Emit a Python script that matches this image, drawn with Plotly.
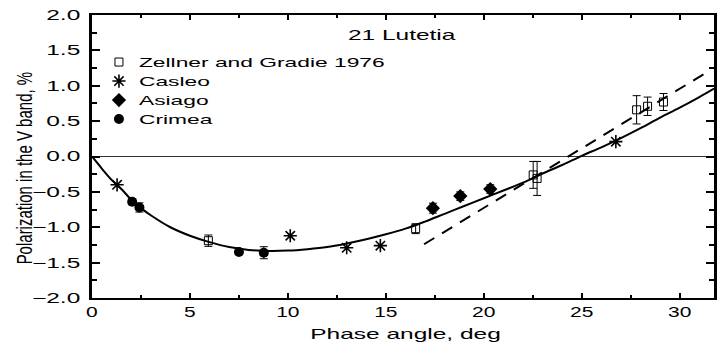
import plotly.graph_objects as go

# --- measurements: polarization of 21 Lutetia vs phase angle ---
zg_phase = [5.94, 16.52, 22.52, 22.72, 27.80, 28.36, 29.17]
zg_pol = [-1.19, -1.02, -0.26, -0.31, 0.66, 0.71, 0.77]
zg_err = [0.08, 0.07, 0.19, 0.24, 0.20, 0.13, 0.12]

casleo_phase = [1.28, 10.12, 13.00, 14.72, 26.74]
casleo_pol = [-0.40, -1.12, -1.29, -1.26, 0.21]

asiago_phase = [17.40, 18.80, 20.33]
asiago_pol = [-0.73, -0.56, -0.46]
asiago_err = [0.07, 0.06, 0.06]

crimea_phase = [2.05, 2.42, 7.50, 8.77]
crimea_pol = [-0.64, -0.72, -1.35, -1.36]
crimea_err = [0.04, 0.065, 0.02, 0.085]

# --- phase curve (solid) ---
fit_phase = [0, 0.5, 1.0, 1.5, 2.0, 2.5, 3.0, 4.0, 5.0, 6.0, 7.0, 8.0, 9.0,
             10.0, 11.0, 12.0, 13.0, 14.0, 15.0, 16.0, 17.0, 18.0, 19.0,
             20.0, 21.0, 22.0, 23.0, 24.0, 25.0, 26.0, 27.0, 28.0, 29.0,
             30.0, 31.0, 31.75]
fit_pol = [0.0, -0.17, -0.33, -0.46, -0.61, -0.73, -0.83, -1.00, -1.12,
           -1.21, -1.28, -1.32, -1.335, -1.33, -1.31, -1.28, -1.23, -1.17,
           -1.10, -1.02, -0.92, -0.81, -0.70, -0.59, -0.48, -0.37, -0.24,
           -0.12, 0.01, 0.13, 0.26, 0.40, 0.55, 0.69, 0.84, 0.96]

# --- linear branch (dashed) ---
lin_phase = [16.95, 31.50]
lin_pol = [-1.24, 1.21]

FONT = "Arial, Liberation Sans, sans-serif"
INK = "#000000"

fig = go.Figure()

fig.add_trace(go.Scatter(x=fit_phase, y=fit_pol, mode="lines",
                         line=dict(color=INK, width=2, shape="spline"),
                         showlegend=False, hoverinfo="skip"))
fig.add_trace(go.Scatter(x=lin_phase, y=lin_pol, mode="lines",
                         line=dict(color=INK, width=2, dash="12px,9px"),
                         showlegend=False, hoverinfo="skip"))

err_style = dict(type="data", color=INK, thickness=1, width=4)

fig.add_trace(go.Scatter(
    x=zg_phase, y=zg_pol, mode="markers", name="Zellner and Gradie 1976",
    marker=dict(symbol="square-open", size=8, color=INK, line=dict(width=1, color=INK)),
    error_y=dict(array=zg_err, **err_style)))
fig.add_trace(go.Scatter(
    x=casleo_phase, y=casleo_pol, mode="markers", name="Casleo",
    marker=dict(symbol="asterisk-open", size=11, color=INK, line=dict(width=1.6, color=INK))))
fig.add_trace(go.Scatter(
    x=asiago_phase, y=asiago_pol, mode="markers", name="Asiago",
    marker=dict(symbol="diamond", size=11, color=INK, line=dict(width=0)),
    error_y=dict(array=asiago_err, **err_style)))
fig.add_trace(go.Scatter(
    x=crimea_phase, y=crimea_pol, mode="markers", name="Crimea",
    marker=dict(symbol="circle", size=10, color=INK, line=dict(width=0)),
    error_y=dict(array=crimea_err, **err_style)))

fig.update_layout(
    width=717, height=343,
    margin=dict(l=92, r=0, t=15, b=45),
    paper_bgcolor="white", plot_bgcolor="white",
    font=dict(family=FONT, size=14, color=INK),
    showlegend=True,
    legend=dict(x=0.0112, y=0.885, xanchor="left", yanchor="top",
                bgcolor="rgba(0,0,0,0)", borderwidth=0,
                font=dict(family=FONT, size=12, color=INK)),
    annotations=[
        dict(text="21 Lutetia", xref="paper", yref="paper", x=0.4984, y=0.931,
             xanchor="center", yanchor="middle", showarrow=False,
             font=dict(family=FONT, size=14, color=INK)),
        dict(text="Phase angle, deg", xref="paper", yref="paper", x=0.504, y=-0.127,
             xanchor="center", yanchor="middle", showarrow=False,
             font=dict(family=FONT, size=14, color=INK)),
        dict(text="Polarization in the V band, %", xref="paper", yref="paper",
             x=-0.1104, y=0.459, xanchor="center", yanchor="middle",
             textangle=-90, showarrow=False,
             font=dict(family=FONT, size=15, color=INK)),
    ],
)

fig.update_xaxes(
    range=[0, 31.75], showgrid=False, zeroline=False,
    showline=True, linewidth=2, linecolor=INK, mirror="ticks",
    ticks="inside", ticklen=5, tickwidth=2, tickcolor=INK,
    tick0=0, dtick=5, tickformat="d", ticklabelstandoff=0,
    minor=dict(ticks="inside", dtick=2.5, ticklen=3, tickwidth=1.5, tickcolor=INK),
    tickfont=dict(family=FONT, size=14, color=INK),
)
fig.update_yaxes(
    range=[-2, 2], showgrid=False,
    zeroline=True, zerolinewidth=1, zerolinecolor="#333333",
    showline=True, linewidth=2.5, linecolor=INK, mirror="ticks",
    ticks="inside", ticklen=8, tickwidth=1.5, tickcolor=INK,
    tick0=0, dtick=0.5, tickformat=".1f", ticklabelstandoff=6,
    minor=dict(ticks="inside", dtick=0.25, ticklen=5, tickwidth=1.5, tickcolor=INK),
    tickfont=dict(family=FONT, size=14, color=INK),
)

# Widen the lettering horizontally (wide typeface look), each text about its anchor.
widen_text = """
var gd = document.getElementById('{plot_id}');
gd.querySelectorAll('.legend, .legend *').forEach(function(e){ e.removeAttribute('clip-path'); });
gd.querySelectorAll('text').forEach(function(t){
  var svg = t.ownerSVGElement; if (!svg) return;
  var r = t.getBoundingClientRect(); if (r.width === 0) return;
  var sr = svg.getBoundingClientRect();
  var rotated = r.height > r.width;
  var inLegend = !!t.closest('.legend');
  var s = rotated ? 1.5 : (inLegend ? 1.9 : 1.75);
  var a = t.getAttribute('text-anchor') || 'start';
  var cx;
  if (rotated || a === 'middle') cx = (r.left + r.right) / 2 - sr.left;
  else if (a === 'end') cx = r.right - sr.left;
  else cx = r.left - sr.left;
  var P = t.parentNode.getCTM();
  var Pm = new DOMMatrix([P.a, P.b, P.c, P.d, P.e, P.f]);
  var S = new DOMMatrix().translate(cx, 0).scale(s, 1).translate(-cx, 0);
  var M = Pm.inverse().multiply(S).multiply(Pm);
  var old = t.getAttribute('transform') || '';
  t.setAttribute('transform', 'matrix(' + [M.a, M.b, M.c, M.d, M.e, M.f].join(',') + ') ' + old);
});
"""

fig.write_html("out.html", config={"displayModeBar": False}, post_script=widen_text)
